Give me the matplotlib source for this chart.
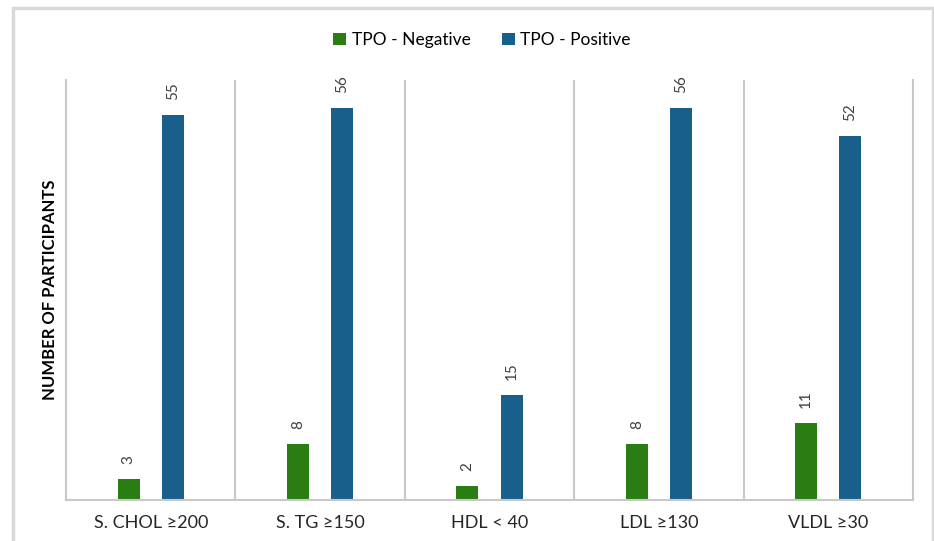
import numpy as np
import matplotlib.pyplot as plt
from matplotlib.patches import Rectangle

categories = ["S. CHOL \u2265200", "S. TG \u2265150", "HDL < 40", "LDL \u2265130", "VLDL \u226530"]
tpo_negative = [3, 8, 2, 8, 11]
tpo_positive = [55, 56, 15, 56, 52]

green = "#2a7d12"
blue = "#185f8c"
grid_gray = "#c8c8c8"

plt.rcParams['font.family'] = ['Lato', 'DejaVu Sans']

fig = plt.figure(figsize=(9.34, 5.41), dpi=100)
ax = fig.add_axes([66/934, 1 - 500/541, (913 - 66)/934, (500 - 80)/541])

# outer frame
fig.patches.append(Rectangle((13/934, -0.01), (933 - 13)/934, 1 - 8/541 + 0.01,
                             transform=fig.transFigure, fill=False,
                             edgecolor="#d9d9d9", linewidth=2.5))

x = np.arange(len(categories))
w = 0.13
off = 0.13
b1 = ax.bar(x - off, tpo_negative, w, color=green, label="TPO - Negative")
b2 = ax.bar(x + off, tpo_positive, w, color=blue, label="TPO - Positive")

for bars in (b1, b2):
    for r in bars:
        ax.annotate(str(int(r.get_height())), (r.get_x() + r.get_width()/2, r.get_height()),
                    xytext=(0, 11), textcoords="offset points", rotation=90,
                    ha="center", va="bottom", fontsize=11, color="#404040")

ax.set_xlim(-0.5, len(categories) - 0.5)
ax.set_ylim(0, 60)
for s in x[:-1]:
    ax.axvline(s + 0.5, color=grid_gray, linewidth=1.5)

ax.set_xticks(x)
ax.set_xticklabels(categories, fontsize=13, color="#262626")
ax.tick_params(axis="x", length=0, pad=11)
ax.set_yticks([])
ax.set_ylabel("NUMBER OF PARTICIPANTS", fontsize=12, fontweight="bold", labelpad=6)

for side in ["left", "right", "bottom"]:
    ax.spines[side].set_color(grid_gray)
    ax.spines[side].set_linewidth(1.5)
ax.spines["top"].set_visible(False)

fig.legend(handles=[b1, b2], loc="center", bbox_to_anchor=(482/934, 1 - 40/541),
           ncol=2, frameon=False, fontsize=12.5, handlelength=0.75, handleheight=0.75,
           handletextpad=0.3, columnspacing=1.8)

fig.savefig("out.png", dpi=100)
